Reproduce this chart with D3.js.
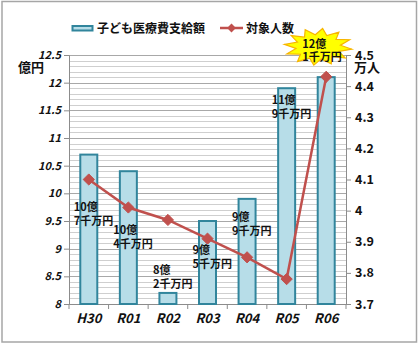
<!DOCTYPE html>
<html>
<head>
<meta charset="utf-8">
<script src="https://cdn.jsdelivr.net/npm/d3@7/dist/d3.min.js"></script>
<style>
  html, body { margin: 0; padding: 0; background: #fff; }
  svg { display: block; }
  text { font-family: "Noto Sans CJK JP", "Noto Sans", sans-serif; font-weight: 700; fill: #111; }
</style>
</head>
<body>
<svg id="chart" width="420" height="345"></svg>
<script>
// Fiscal years
const years = ["H30", "R01", "R02", "R03", "R04", "R05", "R06"];
// 子ども医療費支給額 (億円)
const payments = [10.7, 10.4, 8.2, 9.5, 9.9, 11.9, 12.1];
// 対象人数 (万人)
const recipients = [4.10, 4.01, 3.97, 3.91, 3.85, 3.78, 4.43];
// Data label text, two lines each
const labelTop = ["10億", "10億", "8億", "9億", "9億", "11億", "12億"];
const labelBottom = ["7千万円", "4千万円", "2千万円", "5千万円", "9千万円", "9千万円", "1千万円"];
// Where each label sits, in 億円 on the left axis
const labelAt = [9.68, 9.26, 8.54, 8.9, 9.5, 11.61, 12.63];
// Axis ticks
const leftTicks = [8, 8.5, 9, 9.5, 10, 10.5, 11, 11.5, 12, 12.5];
const rightTicks = [3.7, 3.8, 3.9, 4.0, 4.1, 4.2, 4.3, 4.4, 4.5];

const svg = d3.select("#chart");
const m = { left: 69, right: 346, top: 55, bottom: 304 };

const x = d3.scaleBand().domain(years).range([m.left, m.right]).paddingInner(0).paddingOuter(0);
const yL = d3.scaleLinear().domain([8, 12.5]).range([m.bottom, m.top]);
const yR = d3.scaleLinear().domain([3.7, 4.5]).range([m.bottom, m.top]);

// outer frame
svg.append("rect").attr("x", 2).attr("y", 1.5).attr("width", 414.5).attr("height", 340.5)
  .attr("fill", "#fff").attr("stroke", "#a6a6a6").attr("stroke-width", 1.5);

// minor + major gridlines (every 0.1 億円)
const minor = d3.range(80, 126).map(v => v / 10);
svg.append("g").selectAll("line").data(minor).join("line")
  .attr("x1", m.left).attr("x2", m.right)
  .attr("y1", d => Math.round(yL(d)) + 0.5).attr("y2", d => Math.round(yL(d)) + 0.5)
  .attr("stroke", d => (Math.abs(d * 2 - Math.round(d * 2)) < 1e-6) ? "#a8a8a8" : "#cfcfcf")
  .attr("stroke-width", 1);

// left axis
const gL = svg.append("g").attr("transform", `translate(${m.left},0)`)
  .call(d3.axisLeft(yL).tickValues(leftTicks).tickSize(5).tickPadding(3)
    .tickFormat(d => d3.format("")(d)));
gL.select(".domain").attr("stroke", "#8c8c8c");
gL.selectAll(".tick line").attr("stroke", "#8c8c8c");
gL.selectAll(".tick text").attr("font-size", 11).attr("font-style", "italic")
  .attr("font-family", "'Noto Sans', sans-serif").attr("font-weight", 700).attr("fill", "#111");

// right axis
const gR = svg.append("g").attr("transform", `translate(${m.right},0)`)
  .call(d3.axisRight(yR).tickValues(rightTicks).tickSize(5).tickPadding(4)
    .tickFormat(d3.format("")));
gR.select(".domain").attr("stroke", "#8c8c8c");
gR.selectAll(".tick line").attr("stroke", "#8c8c8c");
gR.selectAll(".tick text").attr("font-size", 12.5)
  .attr("font-family", "'Noto Sans', sans-serif").attr("font-weight", 700).attr("fill", "#111");

// bottom axis
const gB = svg.append("g").attr("transform", `translate(0,${m.bottom})`)
  .call(d3.axisBottom(x).tickSize(0).tickPadding(10));
gB.select(".domain").attr("stroke", "#8c8c8c");
gB.selectAll(".tick text").attr("font-size", 13).attr("font-style", "italic")
  .attr("font-family", "'Noto Sans', sans-serif").attr("font-weight", 700).attr("fill", "#111");
// tick marks between categories
svg.append("g").selectAll("line").data(d3.range(years.length + 1)).join("line")
  .attr("x1", i => m.left + i * x.step()).attr("x2", i => m.left + i * x.step())
  .attr("y1", m.bottom).attr("y2", m.bottom + 5).attr("stroke", "#8c8c8c");

// bars
const bw = 17;
svg.append("g").selectAll("rect").data(payments).join("rect")
  .attr("x", (d, i) => x(years[i]) + x.bandwidth() / 2 - bw / 2)
  .attr("y", d => yL(d))
  .attr("width", bw)
  .attr("height", d => yL(8) - yL(d))
  .attr("fill", "#b7dde8").attr("stroke", "#31859c").attr("stroke-width", 2);

// recipients line
const cx = i => x(years[i]) + x.bandwidth() / 2;
svg.append("path").datum(recipients)
  .attr("d", d3.line().x((d, i) => cx(i)).y(d => yR(d)))
  .attr("fill", "none").attr("stroke", "#c0504d").attr("stroke-width", 2.5);
svg.append("g").selectAll("path").data(recipients).join("path")
  .attr("transform", (d, i) => `translate(${cx(i)},${yR(d)})`)
  .attr("d", d3.symbol().type(d3.symbolDiamond2).size(80))
  .attr("fill", "#c0504d").attr("stroke", "#c0504d").attr("stroke-width", 1);

// starburst behind the last label
const last = years.length - 1;
const sx = cx(last) - 8, sy = yL(labelAt[last]) - 1;
const spikes = 12;
const starPts = d3.range(spikes * 2).map(k => {
  const a = (k / (spikes * 2)) * Math.PI * 2 + 0.13;
  const r = k % 2 === 0 ? 1 : 0.66;
  return [sx + Math.cos(a) * 34 * r, sy + Math.sin(a) * 18.5 * r];
});
svg.append("path").attr("d", d3.line()(starPts) + "Z")
  .attr("fill", "#ffff00").attr("stroke", "#f7b500").attr("stroke-width", 1.2);

// data labels
const lab = svg.append("g");
payments.forEach((v, i) => {
  const lx = i === last ? cx(i) - 24 : cx(i) - 15;
  const ly = yL(labelAt[i]);
  const t = lab.append("text").attr("x", lx).attr("y", ly).attr("font-size", 11);
  t.append("tspan").attr("x", lx).attr("dy", 0).text(labelTop[i]);
  t.append("tspan").attr("x", lx).attr("dy", 13.5).text(labelBottom[i]);
});

// axis unit titles
svg.append("text").attr("x", 18).attr("y", 72).attr("font-size", 13).text("億円");
svg.append("text").attr("x", 354).attr("y", 72).attr("font-size", 13).text("万人");

// legend
const lg = svg.append("g");
lg.append("rect").attr("x", 72.5).attr("y", 26).attr("width", 20).attr("height", 4.5)
  .attr("fill", "#b7dde8").attr("stroke", "#31859c").attr("stroke-width", 2);
lg.append("text").attr("x", 97).attr("y", 33).attr("font-size", 12).text("子ども医療費支給額");
lg.append("line").attr("x1", 220).attr("x2", 243).attr("y1", 28).attr("y2", 28)
  .attr("stroke", "#c0504d").attr("stroke-width", 2.5);
lg.append("path").attr("transform", "translate(231.5,28)")
  .attr("d", d3.symbol().type(d3.symbolDiamond2).size(50)).attr("fill", "#c0504d");
lg.append("text").attr("x", 246).attr("y", 33).attr("font-size", 12).text("対象人数");
</script>
</body>
</html>
